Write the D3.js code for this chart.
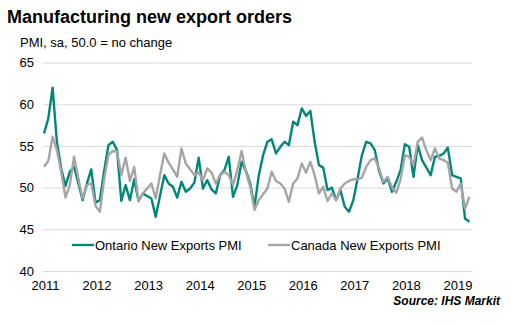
<!DOCTYPE html>
<html>
<head>
<meta charset="utf-8">
<script src="https://cdn.jsdelivr.net/npm/d3@7"></script>
<style>
  body { margin: 0; background: #fff; }
  svg { font-family: "Liberation Sans", Arial, sans-serif; }
</style>
</head>
<body>
<svg id="canvas" width="511" height="326"></svg>
<script>
// monthly PMI readings, Jan 2011 .. Apr 2019
var year_labels = ['2011','2012','2013','2014','2015','2016','2017','2018','2019'];
var y_ticks = [40, 45, 50, 55, 60, 65];

var ontario = [
  56.5, 58.3, 62.0, 55.5, 52.3, 50.2, 51.9, 52.5, 50.5, 48.5, 50.5, 52.2,
  48.2, 48.5, 52.0, 55.1, 55.5, 54.5, 48.4, 50.3, 48.5, 51.0, 48.4, 49.3,
  49.0, 48.7, 46.5, 49.0, 51.5, 50.5, 50.1, 48.8, 50.7, 49.5, 49.9, 50.6,
  53.6, 49.9, 50.9, 49.8, 49.3, 51.5, 52.1, 53.7, 48.9, 50.3, 53.1, 52.0,
  50.5, 47.7, 51.5, 53.9, 55.5, 55.8, 54.1, 54.9, 55.5, 55.1, 57.9, 57.5,
  59.5, 58.6, 59.2, 55.5, 52.7, 52.4, 49.7, 50.0, 48.5, 49.7, 47.7, 47.1,
  48.5, 51.1, 53.9, 55.5, 55.3, 54.5, 52.0, 50.5, 51.1, 49.5, 50.7, 52.1,
  55.2, 54.9, 51.3, 55.1, 53.3, 52.4, 51.5, 53.7, 53.8, 54.1, 54.8, 51.5,
  51.3, 51.1, 46.3, 45.9
];

var canada = [
  52.5, 53.2, 56.1, 54.5, 51.9, 48.8, 50.3, 53.7, 51.1, 48.7, 50.3, 50.5,
  47.8, 47.1, 51.0, 53.9, 54.4, 54.3, 51.5, 53.6, 50.8, 52.5, 48.4, 49.3,
  49.9, 50.5, 48.7, 51.5, 54.1, 53.0, 52.2, 51.3, 54.7, 52.9, 52.2, 51.5,
  51.8, 50.9, 52.3, 51.8, 50.5, 51.5, 51.9, 51.5, 50.3, 52.1, 54.4, 51.9,
  50.1, 47.3, 48.5, 49.2, 49.9, 51.9, 50.8, 50.5, 49.9, 48.3, 50.5, 51.1,
  52.9, 51.8, 53.1, 51.5, 49.3, 50.1, 48.4, 49.3, 48.5, 49.9, 50.5, 50.8,
  51.0, 51.0, 51.2, 52.5, 53.3, 53.5, 52.3, 50.7, 51.3, 50.0, 49.4, 51.0,
  53.9, 53.7, 52.7, 55.5, 56.0, 54.5, 53.3, 54.7, 53.5, 53.3, 53.0, 49.9,
  49.5, 50.5, 47.5, 48.9
];

var series = [
  { name: 'Ontario New Exports PMI', values: ontario, color: '#00877a' },
  { name: 'Canada New Exports PMI', values: canada, color: '#a5a5a5' }
];

var svg = d3.select('#canvas');
var plot_left = 43, plot_right = 472;

var xScale = d3.scaleLinear().domain([0, ontario.length - 1]).range([44, 469.3]);
var yScale = d3.scaleLinear().domain([40, 65]).range([271, 62.6]);

// title block
svg.append('text')
  .attr('x', 7).attr('y', 23)
  .style('font-size', '18px').style('font-weight', 'bold').attr('fill', '#000')
  .text('Manufacturing new export orders');
svg.append('text')
  .attr('x', 20).attr('y', 47)
  .style('font-size', '13px').attr('fill', '#000')
  .text('PMI, sa, 50.0 = no change');

// gridlines
var grid = svg.append('g').attr('transform', 'translate(' + plot_left + ',0)')
  .call(d3.axisLeft(yScale).tickValues(y_ticks).tickSize(-(plot_right - plot_left)).tickFormat(''));
grid.select('.domain').remove();
grid.selectAll('line').attr('stroke', '#d9d9d9').attr('stroke-width', 1);

// y axis labels
var yAxis = svg.append('g').attr('transform', 'translate(34,0)')
  .call(d3.axisLeft(yScale).tickValues(y_ticks).tickSize(0).tickPadding(0));
yAxis.select('.domain').remove();
yAxis.selectAll('text').style('font-size', '13px').attr('fill', '#000')
  .style('font-family', '"Liberation Sans", Arial, sans-serif');

// x axis labels, one per January
var xAxis = svg.append('g').attr('transform', 'translate(1,281)')
  .call(d3.axisBottom(xScale)
    .tickValues(year_labels.map(function(d, i){ return i * 12; }))
    .tickSize(0).tickPadding(0)
    .tickFormat(function(d, i){ return year_labels[i]; }));
xAxis.select('.domain').remove();
xAxis.selectAll('text').style('font-size', '13px').attr('fill', '#000')
  .style('font-family', '"Liberation Sans", Arial, sans-serif');

// lines
var line = d3.line()
  .x(function(d, i){ return xScale(i); })
  .y(function(d){ return yScale(d); });

series.forEach(function(s){
  svg.append('path')
    .datum(s.values)
    .attr('d', line)
    .attr('fill', 'none')
    .attr('stroke', s.color)
    .attr('stroke-width', 2.4)
    .attr('stroke-linejoin', 'round');
});

// legend
var legend_x = [72, 268];
series.forEach(function(s, i){
  var g = svg.append('g').attr('transform', 'translate(' + legend_x[i] + ',245)');
  g.append('line').attr('x1', 0).attr('x2', 22).attr('y1', 0).attr('y2', 0)
    .attr('stroke', s.color).attr('stroke-width', 2.4);
  g.append('text').attr('x', 23).attr('y', 4.5)
    .style('font-size', '13px').attr('fill', '#000').text(s.name);
});

// source note
svg.append('text')
  .attr('x', 500).attr('y', 305)
  .attr('text-anchor', 'end')
  .style('font-size', '12px').style('font-weight', 'bold').style('font-style', 'italic')
  .attr('fill', '#000')
  .text('Source: IHS Markit');
</script>
</body>
</html>
